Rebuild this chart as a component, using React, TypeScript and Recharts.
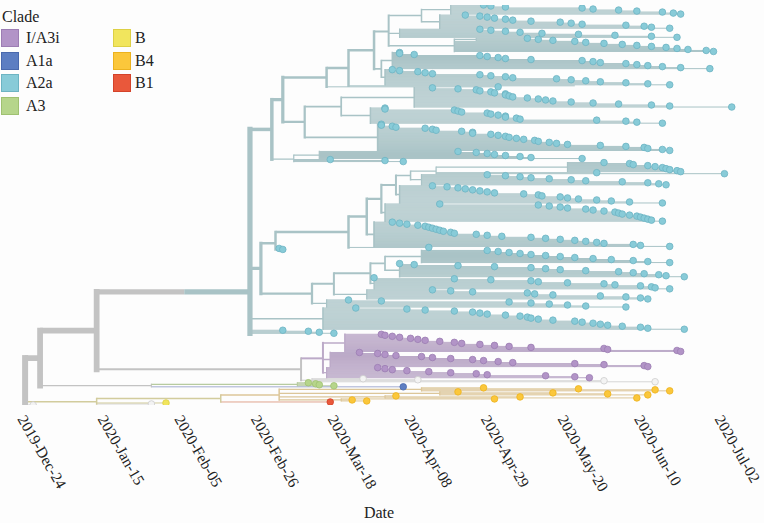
import React from 'react';
import { ComposedChart, Line, Scatter, XAxis, YAxis, Legend, Label } from 'recharts';

// x values are days since 2019-12-24
const TICK_DAYS = [0, 22, 43, 64, 85, 106, 127, 148, 169, 191];
const TICK_LABELS = ['2019-Dec-24', '2020-Jan-15', '2020-Feb-05', '2020-Feb-26', '2020-Mar-18', '2020-Apr-08', '2020-Apr-29', '2020-May-20', '2020-Jun-10', '2020-Jul-02'];

const CLADE_NAMES = ['I/A3i', 'A1a', 'A2a', 'A3', 'B', 'B4', 'B1'];
const CLADE_CODES = ['p', 'b', 't', 'g', 'y', 'o', 'r'];
const CLADE_FILLS = ['#b294c7', '#5d7ec2', '#88cbd8', '#b6d58b', '#f1e55d', '#fbc73b', '#e9583b'];
const CLADE_EDGES = ['#9c7db3', '#4a69ad', '#6db4c3', '#9fc171', '#ddd045', '#ecb21f', '#d4432a'];

const BRANCH_CODES = ['k', 'w', 't', 'p', 'g', 'b', 'y', 'o', 'r'];
const BRANCH_COLORS = ['#c3c3c3', '#d6d6d6', '#a9c3c6', '#bcaac8', '#b7cba0', '#a3acd0', '#d2cc9d', '#dcc699', '#e0a58f'];

// Tree in a Newick-like form: "(child,child)date" ; tip = "date"; letters: clade code, n = no dot
const TOP_A = '((127,129,133,154,157,164,169,176,179,181)118,(122,126,128,130,133,135,140,148,151,154,166,171,173,178)115)110';
const TOP_B = '(126,129,133,137,143,153,163,173,180)104';
const TOP_C = '((139,142,146)125,152,155,160,165,169,173,177,180,183,188,190)119';
const G62_A = '(104,104,108,126,128,131,133,140,154,157,159,166,169,172,176,181,189)102';
const G62_B = '(102,104,109,111,113,126,129,133,135,147,151,155,159,166,172,178)100';
const ML_1 = '(113,120,125,126,129,130,133,133,134,135,139,142,144,146,151,157,164,173,178,195)108';
const ML_2 = '(100,100,119,120,121,128,129,131,133,133,136,137,158,166,169,176)96';
const ML_3 = '(99,99,102,103,111,113,114,121,124,124,129,131,133,134,136,138,141,142,145,147,150,159,166,171,172,176,178)98';
const U_BOT = '((120,125,128,130,133,137,140,154)82,85,100,105)75';
const MU_1 = '((160,167,168,172,174,176,177,178,180,181)150,158,193)114';
const MU_2 = '(128,133,137,140,145,151,155,165,172,175,177)110';
const MU_3 = '(113,117,120,122,124,126,128,130,138,142,143,148,150,153,158,162,167,176)104';
const MU_4 = '(115,142,145,148,150,155,157,160,163,164,165,167,169,170,171,172,173,176)100';
const MU_5 = '(102,104,106,109,111,112,113,114,115,116,118,119,125,128,132,140,144,148,152,155,158,160,168,170,178)97';
const MLO_A = '(128,131,134,137,140,144,148,152,157,162,168,172,178)110';
const MLO_B = '(104,108,120,130,140,144,148,155,164,168,171,175,177,182)104';
const MLO_C = '(97,119,129,140,142,150,160,163,170,173,174,178)97';
const MLO_D = '(113,118,124,139,141,146,159,166,170,172)95';
const MLO_E = '(90,99,134,140,145,150,155,166)84';
const BSTRIP = '(92,106,111,119,124,126,128,133,137,139,140,142,146,152,154,157,159,161,165,170,172,182)83';
const PUR_A = '(99,100,102,104,107,109,111,115,119,121,126,130,134,140,160,161,180,181)89';
const PUR_B = '(93,98,100,103,110,113,118,124,127,131,135,152,160,171,172)85';
const PUR_C = '(98,100,102,106,112,118,125,128,144,152,156)84';
const GREY_TIPS = '(94,109,160,174)80w';
const A3_AND_A1A = '((79,81,82,86)76g,105b)36';
const B4_CLADE = '((127,153,174,178)110,(120,146,161,172)115,(103,137,169)100,(130,91,95)88)71o';

const TOP = `(${TOP_A},${TOP_B},${TOP_C})101`;
const P375 = `(${TOP},(${G62_A},${G62_B})99)97`;
const LADDER = `((${P375},152n)90,131)84`;
const N1 = `((${LADDER},((${ML_1},${ML_2})88,${ML_3})78)72,${U_BOT})69`;
const MU = `((((((${MU_1},${MU_2})107,${MU_3})103,${MU_4})99,${MU_5})95,112)90,71,72)70`;
const MLO = `((((${MLO_A},${MLO_B})100,${MLO_C})96,${MLO_D})86,${MLO_E})80`;
const N0 = `(${N1},(${MU},${MLO})66,${BSTRIP},72,79,82,86)63t`;
const PURPLE = `(${PUR_A},${PUR_B},${PUR_C})83p`;
const X98 = `((${N0})45,(${PURPLE},${GREY_TIPS})77)21`;
const BCLADE = `((${B4_CLADE},85r)55,40y,36w)21y`;
const TREE = `((${X98},${A3_AND_A1A})5.5,${BCLADE},3.6w)1.4k`;

type TNode = { date: number; code: string | null; dot: boolean; children: TNode[]; y: number; n: number; clade: string };

function parseTree(src: string): TNode {
  const s = src.replace(/\s+/g, '');
  let i = 0;
  const parseNode = (): TNode => {
    const children: TNode[] = [];
    if (s[i] === '(') {
      i++;
      children.push(parseNode());
      while (s[i] === ',') { i++; children.push(parseNode()); }
      i++;
    }
    let num = '';
    while (i < s.length && /[0-9.]/.test(s[i])) num += s[i++];
    let letters = '';
    while (i < s.length && /[a-z]/.test(s[i])) letters += s[i++];
    const code = letters.replace(/n/g, '');
    return { date: parseFloat(num), code: code || null, dot: !letters.includes('n'), children, y: 0, n: 0, clade: 'k' };
  };
  return parseNode();
}

function buildTree() {
  const root = parseTree(TREE);
  let idx = 0;
  const layout = (nd: TNode, parentClade: string) => {
    nd.clade = nd.code || parentClade;
    if (!nd.children.length) { nd.y = idx++; nd.n = 1; return; }
    nd.children.forEach((c) => layout(c, nd.clade));
    nd.y = nd.children.reduce((a, c) => a + c.y, 0) / nd.children.length;
    nd.n = nd.children.reduce((a, c) => a + c.n, 0);
  };
  layout(root, 'k');
  const total = idx;
  const width = (n: number) => Math.round((1 + 5 * Math.pow(n / total, 0.75)) * 4) / 4;
  const groups: Record<string, { key: string; color: string; w: number; v: boolean; points: any[] }> = {};
  const dotGroups: Record<string, any[]> = {};
  const add = (clade: string, w: number, v: boolean, x1: number, y1: number, x2: number, y2: number) => {
    const key = `${clade}|${w}|${v ? 1 : 0}`;
    if (!groups[key]) groups[key] = { key, color: BRANCH_COLORS[BRANCH_CODES.indexOf(clade)], w, v, points: [] };
    groups[key].points.push({ x: x1, y: y1 }, { x: x2, y: y2 }, { x: x2, y: null });
  };
  const walk = (nd: TNode, parent: TNode | null) => {
    const w = width(nd.n);
    if (parent) add(nd.clade, w, false, parent.date, nd.y, nd.date, nd.y);
    if (nd.children.length > 1) {
      const ys = nd.children.map((c) => c.y);
      add(nd.clade, w, true, nd.date, Math.min(...ys), nd.date, Math.max(...ys));
    }
    if (!nd.children.length && nd.dot) {
      (dotGroups[nd.clade] = dotGroups[nd.clade] || []).push({ x: nd.date, y: nd.y });
    }
    nd.children.forEach((c) => walk(c, nd));
  };
  walk(root, null);
  const lines = Object.values(groups).sort((a, b) => a.w - b.w);
  return { lines, dotGroups, total };
}

const DateTick = (props: any) => {
  const { x, y, payload } = props;
  const i = TICK_DAYS.indexOf(payload.value);
  const ax = x - 3;
  const ay = y + 6;
  return (
    <text x={ax} y={ay} transform={`rotate(60 ${ax} ${ay})`} textAnchor="start" fontFamily="'Liberation Serif', serif" fontSize={15.5} fill="#222">
      {TICK_LABELS[i]}
    </text>
  );
};

const CladeLegend = () => (
  <div style={{ position: 'relative', width: 200, height: 120, fontFamily: "'Liberation Serif', serif", fontSize: 16, color: '#222' }}>
    <div style={{ position: 'absolute', left: 2, top: 8, lineHeight: '18px' }}>Clade</div>
    {CLADE_NAMES.map((name, i) => {
      const col = i < 4 ? 0 : 1;
      const row = i < 4 ? i : i - 4;
      const top = 29 + row * 22.7;
      return (
        <React.Fragment key={name}>
          <div style={{ position: 'absolute', left: col ? 113 : 1, top, width: 16, height: 16, background: CLADE_FILLS[i], border: `1px solid ${CLADE_EDGES[i]}` }} />
          <div style={{ position: 'absolute', left: col ? 135 : 26, top, lineHeight: '18px', whiteSpace: 'nowrap' }}>{name}</div>
        </React.Fragment>
      );
    })}
  </div>
);

export default function App() {
  const { lines, dotGroups, total } = React.useMemo(buildTree, []);
  const dotStyle = (code: string) => {
    const k = CLADE_CODES.indexOf(code);
    if (k < 0) return { fill: '#f3f3f3', stroke: '#cdcdcd' };
    return { fill: CLADE_FILLS[k], stroke: CLADE_EDGES[k] };
  };
  return (
    <div style={{ position: 'absolute', left: 0, top: 0, width: 764, height: 523, background: '#fdfdfd' }}>
      <ComposedChart width={764} height={523} margin={{ top: 5, right: 14, bottom: 0, left: 20 }}>
        <XAxis type="number" dataKey="x" domain={[0, 200]} ticks={TICK_DAYS} interval={0} allowDataOverflow tick={<DateTick />} tickLine={false} axisLine={false} height={118}>
          <Label value="Date" position="insideBottom" offset={5} dx={-6} fontFamily="'Liberation Serif', serif" fontSize={16} fill="#222" />
        </XAxis>
        <YAxis type="number" dataKey="y" domain={[0, total - 1]} reversed hide allowDataOverflow />
        {lines.map((g) => (
          <Line key={g.key} data={g.points} dataKey="y" stroke={g.color} strokeWidth={g.w} strokeLinecap={g.v ? 'square' : 'butt'} dot={false} activeDot={false} isAnimationActive={false} connectNulls={false} legendType="none" />
        ))}
        {Object.keys(dotGroups).map((code) => {
          const st = dotStyle(code);
          return (
            <Scatter key={code} data={dotGroups[code]} isAnimationActive={false} legendType="none"
              shape={(p: any) => <circle cx={p.cx} cy={p.cy} r={3.3} fill={st.fill} stroke={st.stroke} strokeWidth={0.8} />} />
          );
        })}
        <Legend content={<CladeLegend />} layout="vertical" align="center" verticalAlign="middle" wrapperStyle={{ left: 0, top: 0, width: 200, height: 120 }} />
      </ComposedChart>
    </div>
  );
}
